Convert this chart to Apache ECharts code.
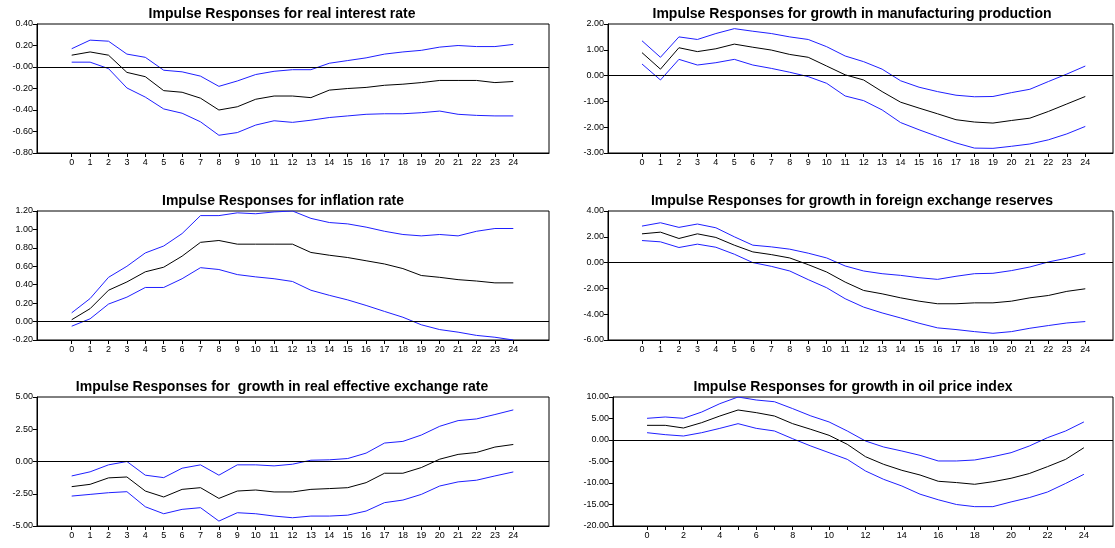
<!DOCTYPE html>
<html lang="en">
<head>
  <meta charset="UTF-8">
  <title>Impulse Responses</title>
  <script src="https://cdn.jsdelivr.net/npm/echarts@6.0.0/dist/echarts.min.js"></script>
  <style>
    html, body { margin: 0; padding: 0; background: #fff; }
    #main { width: 1115px; height: 548px; }
  </style>
</head>
<body>
  <div id="main"></div>
  <script>
    // horizon (periods after the shock)
    var steps = [0, 1, 2, 3, 4, 5, 6, 7, 8, 9, 10, 11, 12, 13, 14, 15, 16, 17, 18, 19, 20, 21, 22, 23, 24];

    // real interest rate
    var rirUpper = [0.17, 0.25, 0.24, 0.12, 0.09, -0.03, -0.045, -0.085, -0.18, -0.13, -0.07, -0.04, -0.025, -0.025, 0.035, 0.06, 0.085, 0.12, 0.14, 0.155, 0.185, 0.2, 0.19, 0.19, 0.21];
    var rirMid   = [0.11, 0.14, 0.11, -0.05, -0.09, -0.22, -0.235, -0.29, -0.40, -0.37, -0.30, -0.27, -0.27, -0.285, -0.215, -0.20, -0.19, -0.17, -0.16, -0.145, -0.125, -0.125, -0.125, -0.145, -0.135];
    var rirLower = [0.045, 0.045, -0.015, -0.195, -0.28, -0.39, -0.43, -0.51, -0.635, -0.61, -0.54, -0.50, -0.515, -0.495, -0.47, -0.455, -0.44, -0.435, -0.435, -0.425, -0.41, -0.44, -0.45, -0.455, -0.455];

    // growth in manufacturing production
    var mfgUpper = [1.35, 0.71, 1.5, 1.4, 1.63, 1.82, 1.72, 1.63, 1.5, 1.4, 1.12, 0.76, 0.54, 0.25, -0.2, -0.45, -0.62, -0.76, -0.82, -0.81, -0.66, -0.53, -0.23, 0.06, 0.37];
    var mfgMid   = [0.89, 0.25, 1.08, 0.93, 1.04, 1.22, 1.1, 0.99, 0.82, 0.71, 0.37, 0.03, -0.17, -0.62, -1.03, -1.26, -1.48, -1.71, -1.80, -1.84, -1.74, -1.65, -1.39, -1.1, -0.81];
    var mfgLower = [0.45, -0.17, 0.63, 0.41, 0.5, 0.63, 0.41, 0.28, 0.13, -0.04, -0.3, -0.79, -0.97, -1.33, -1.82, -2.1, -2.36, -2.61, -2.81, -2.82, -2.74, -2.65, -2.49, -2.26, -1.97];

    // inflation rate
    var infUpper = [0.095, 0.25, 0.48, 0.6, 0.745, 0.82, 0.955, 1.15, 1.15, 1.18, 1.17, 1.19, 1.2, 1.12, 1.075, 1.06, 1.025, 0.98, 0.945, 0.93, 0.945, 0.93, 0.98, 1.01, 1.01];
    var infMid   = [0.02, 0.14, 0.34, 0.43, 0.54, 0.59, 0.71, 0.86, 0.88, 0.84, 0.84, 0.84, 0.84, 0.75, 0.72, 0.695, 0.66, 0.625, 0.575, 0.5, 0.48, 0.455, 0.44, 0.42, 0.42];
    var infLower = [-0.05, 0.03, 0.19, 0.265, 0.37, 0.37, 0.465, 0.585, 0.565, 0.51, 0.485, 0.465, 0.435, 0.34, 0.285, 0.235, 0.175, 0.11, 0.047, -0.035, -0.087, -0.115, -0.15, -0.17, -0.2];

    // growth in foreign exchange reserves
    var fxrUpper = [2.83, 3.09, 2.73, 2.99, 2.7, 2.0, 1.35, 1.22, 1.04, 0.73, 0.36, -0.26, -0.65, -0.86, -0.99, -1.17, -1.3, -1.06, -0.86, -0.83, -0.62, -0.34, 0.05, 0.34, 0.7];
    var fxrMid   = [2.23, 2.36, 1.87, 2.23, 1.95, 1.35, 0.83, 0.62, 0.36, -0.16, -0.73, -1.51, -2.16, -2.42, -2.73, -2.99, -3.19, -3.19, -3.12, -3.12, -2.99, -2.73, -2.55, -2.23, -2.03];
    var fxrLower = [1.71, 1.61, 1.17, 1.43, 1.19, 0.65, 0.0, -0.29, -0.65, -1.32, -1.95, -2.8, -3.45, -3.9, -4.29, -4.7, -5.06, -5.19, -5.35, -5.48, -5.35, -5.09, -4.88, -4.68, -4.57];

    // growth in real effective exchange rate
    var reerUpper = [-1.12, -0.8, -0.26, 0.0, -1.06, -1.25, -0.52, -0.26, -1.06, -0.26, -0.26, -0.34, -0.21, 0.1, 0.13, 0.23, 0.65, 1.43, 1.56, 2.05, 2.73, 3.17, 3.3, 3.64, 4.0];
    var reerMid   = [-1.95, -1.77, -1.27, -1.2, -2.29, -2.75, -2.16, -2.03, -2.86, -2.29, -2.21, -2.36, -2.36, -2.16, -2.1, -2.03, -1.64, -0.91, -0.91, -0.47, 0.18, 0.55, 0.7, 1.12, 1.32];
    var reerLower = [-2.68, -2.55, -2.42, -2.34, -3.51, -4.05, -3.71, -3.58, -4.62, -3.97, -4.05, -4.23, -4.36, -4.23, -4.23, -4.16, -3.84, -3.19, -2.99, -2.55, -1.9, -1.58, -1.45, -1.12, -0.81];

    // growth in oil price index
    var oilUpper = [5.04, 5.35, 5.04, 6.5, 8.45, 10.0, 9.3, 8.9, 7.3, 5.6, 4.2, 2.1, -0.23, -1.63, -2.56, -3.57, -4.88, -4.88, -4.65, -3.88, -2.95, -1.4, 0.54, 2.1, 4.2];
    var oilMid   = [3.41, 3.41, 2.79, 4.03, 5.58, 6.98, 6.36, 5.58, 3.8, 2.48, 1.09, -1.0, -3.88, -5.66, -7.05, -8.14, -9.6, -9.9, -10.3, -9.7, -8.9, -7.8, -6.2, -4.5, -1.8];
    var oilLower = [1.7, 1.24, 0.93, 1.7, 2.71, 3.8, 2.71, 2.1, 0.3, -1.4, -2.95, -4.5, -7.2, -9.15, -10.7, -12.6, -13.9, -15.0, -15.5, -15.5, -14.4, -13.4, -12.1, -10.1, -7.98];

    var evenSteps = steps.filter(function (s) { return s % 2 === 0; });

    // panel layout: grid box in px, x range chosen so 0..24 sit where they do in the picture
    var panels = [
      { title: 'Impulse Responses for real interest rate', cx: 277, left: 37, top: 24, width: 512, xmin: -1.886, xmax: 25.94,
        ymin: -0.8, ymax: 0.4, step: 0.2, up: rirUpper, mid: rirMid, low: rirLower, negZero: true, labels: steps },
      { title: 'Impulse Responses for growth in manufacturing production', cx: 847, left: 608, top: 24, width: 505, xmin: -1.84, xmax: 25.5,
        ymin: -3, ymax: 2, step: 1, up: mfgUpper, mid: mfgMid, low: mfgLower, labels: steps },
      { title: 'Impulse Responses for inflation rate', cx: 278, left: 37, top: 211, width: 512, xmin: -1.886, xmax: 25.94,
        ymin: -0.2, ymax: 1.2, step: 0.2, up: infUpper, mid: infMid, low: infLower, labels: steps },
      { title: 'Impulse Responses for growth in foreign exchange reserves', cx: 847, left: 608, top: 211, width: 505, xmin: -1.84, xmax: 25.5,
        ymin: -6, ymax: 4, step: 2, up: fxrUpper, mid: fxrMid, low: fxrLower, labels: steps },
      { title: 'Impulse Responses for  growth in real effective exchange rate', cx: 277, left: 37, top: 397, width: 512, xmin: -1.886, xmax: 25.94,
        ymin: -5, ymax: 5, step: 2.5, up: reerUpper, mid: reerMid, low: reerLower, labels: steps },
      { title: 'Impulse Responses for growth in oil price index', cx: 848, left: 613, top: 397, width: 500, xmin: -1.87, xmax: 25.6,
        ymin: -20, ymax: 10, step: 5, up: oilUpper, mid: oilMid, low: oilLower, labels: evenSteps }
    ];

    function pairs(vals) {
      return steps.map(function (s, i) { return [s, vals[i]]; });
    }

    var font = 'Liberation Sans, Arial, sans-serif';
    var blue = '#1f1fff';

    var titles = [], grids = [], xAxes = [], yAxes = [], series = [];

    panels.forEach(function (p, i) {
      titles.push({
        text: p.title,
        left: p.cx,
        top: p.top - 22,
        textAlign: 'center',
        textStyle: { fontFamily: font, fontSize: 14, fontWeight: 'bold', color: '#000' }
      });
      grids.push({
        left: p.left, top: p.top, width: p.width, height: 129,
        show: true, borderColor: '#000', borderWidth: 1, backgroundColor: 'transparent'
      });
      xAxes.push({
        type: 'value', gridIndex: i, min: p.xmin, max: p.xmax,
        axisLine: { onZero: false, lineStyle: { color: '#000', width: 1 } },
        axisTick: { show: true, length: 4, customValues: steps, lineStyle: { color: '#000' } },
        axisLabel: { customValues: p.labels, color: '#000', fontFamily: font, fontSize: 9, margin: 5 },
        splitLine: { show: false }
      });
      yAxes.push({
        type: 'value', gridIndex: i, min: p.ymin, max: p.ymax, interval: p.step,
        axisLine: { show: true, onZero: false, lineStyle: { color: '#000', width: 1 } },
        axisTick: { show: true, length: 4, lineStyle: { color: '#000' } },
        axisLabel: {
          color: '#000', fontFamily: font, fontSize: 9, margin: 4,
          formatter: function (v) {
            if (Math.abs(v) < 1e-9) return p.negZero ? '-0.00' : '0.00';
            return v.toFixed(2);
          }
        },
        splitLine: { show: false }
      });
      series.push({
        type: 'line', xAxisIndex: i, yAxisIndex: i, data: pairs(p.up),
        showSymbol: false, lineStyle: { color: blue, width: 1 }, z: 3
      });
      series.push({
        type: 'line', xAxisIndex: i, yAxisIndex: i, data: pairs(p.mid),
        showSymbol: false, lineStyle: { color: '#000', width: 1 }, z: 3,
        markLine: {
          silent: true, symbol: 'none', label: { show: false },
          lineStyle: { color: '#000', width: 1, type: 'solid' },
          data: [{ yAxis: 0 }]
        }
      });
      series.push({
        type: 'line', xAxisIndex: i, yAxisIndex: i, data: pairs(p.low),
        showSymbol: false, lineStyle: { color: blue, width: 1 }, z: 3
      });
    });

    var chart = echarts.init(document.getElementById('main'));
    chart.setOption({
      animation: false,
      backgroundColor: '#fff',
      title: titles,
      grid: grids,
      xAxis: xAxes,
      yAxis: yAxes,
      series: series
    });
  </script>
</body>
</html>
